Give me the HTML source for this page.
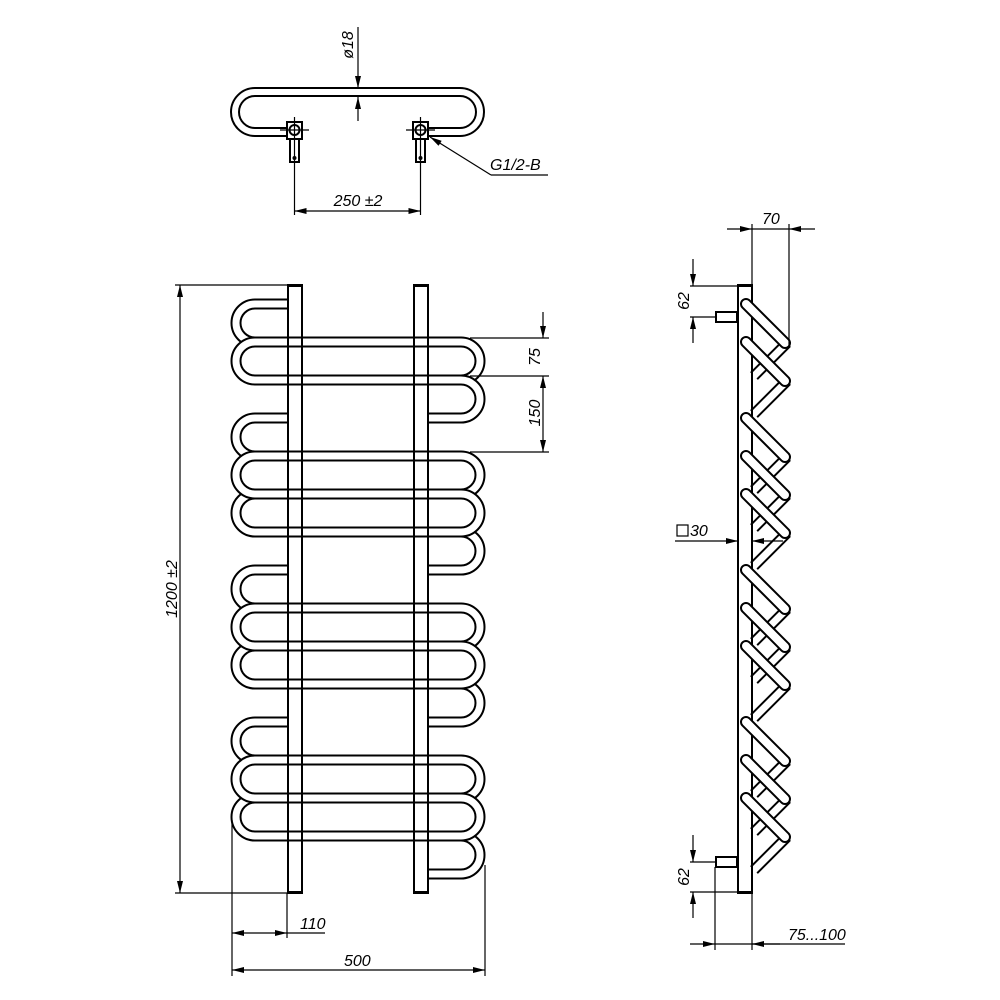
<!DOCTYPE html>
<html><head><meta charset="utf-8"><style>
html,body{margin:0;padding:0;background:#fff}
svg{display:block}
text{font-family:"Liberation Sans",sans-serif;font-style:italic;font-size:16px;fill:#000}
.k{fill:none;stroke:#000;stroke-width:11}
.w{fill:none;stroke:#fff;stroke-width:7}
.kt{fill:none;stroke:#000;stroke-width:10}
.wt{fill:none;stroke:#fff;stroke-width:6}
.l{fill:none;stroke:#000;stroke-width:1.2}
.o{fill:none;stroke:#000;stroke-width:2}
</style></head><body>
<svg width="1000" height="1000" viewBox="0 0 1000 1000" xmlns="http://www.w3.org/2000/svg">
<defs>
<marker id="a" viewBox="0 0 12 6" refX="12" refY="3" markerWidth="12" markerHeight="6" markerUnits="userSpaceOnUse" orient="auto-start-reverse"><path d="M0 0 L12 3 L0 6 Z" fill="#000"/></marker>
</defs>

<!-- TOP VIEW -->
<path class="kt" d="M287 132 H255 A20 20 0 0 1 255 92 H460 A20 20 0 0 1 460 132 H428"/>
<path class="wt" d="M287 132 H255 A20 20 0 0 1 255 92 H460 A20 20 0 0 1 460 132 H428"/>
<g>
<rect x="287" y="122" width="15" height="17" fill="#fff" class="o"/>
<circle cx="294.5" cy="130" r="5" fill="#fff" class="o"/>
<rect x="290" y="139" width="9" height="23" fill="#fff" class="o"/>
<circle cx="294.5" cy="158" r="2" fill="#000"/>
<line class="l" x1="280" y1="130" x2="309" y2="130"/><line class="l" x1="294.5" y1="117" x2="294.5" y2="215"/>
<rect x="413" y="122" width="15" height="17" fill="#fff" class="o"/>
<circle cx="420.5" cy="130" r="5" fill="#fff" class="o"/>
<rect x="416" y="139" width="9" height="23" fill="#fff" class="o"/>
<circle cx="420.5" cy="158" r="2" fill="#000"/>
<line class="l" x1="406" y1="130" x2="435" y2="130"/><line class="l" x1="420.5" y1="117" x2="420.5" y2="215"/>
</g>
<line class="l" x1="294.5" y1="211" x2="420.5" y2="211" marker-start="url(#a)" marker-end="url(#a)"/>
<text x="358" y="206" text-anchor="middle">250 ±2</text>
<line class="l" x1="358" y1="27" x2="358" y2="88" marker-end="url(#a)"/>
<line class="l" x1="358" y1="121" x2="358" y2="97" marker-end="url(#a)"/>
<text transform="translate(353,45) rotate(-90)" text-anchor="middle">ø18</text>
<line class="l" x1="491" y1="175" x2="430" y2="137" marker-end="url(#a)"/>
<line class="l" x1="491" y1="175" x2="548" y2="175"/>
<text x="490" y="170">G1/2-B</text>

<!-- FRONT VIEW tubes -->
<path class="k" d="M255 342 H461 M255 380 H461 M255 456 H461 M255 494 H461 M255 532 H461 M255 608 H461 M255 646 H461 M255 684 H461 M255 760 H461 M255 798 H461 M255 836 H461 M287 304 H255 M287 418 H255 M287 570 H255 M287 722 H255 M461 418 H428 M461 570 H428 M461 722 H428 M461 874 H428"/>
<path class="w" d="M255 342 H461 M255 380 H461 M255 456 H461 M255 494 H461 M255 532 H461 M255 608 H461 M255 646 H461 M255 684 H461 M255 760 H461 M255 798 H461 M255 836 H461 M287 304 H255 M287 418 H255 M287 570 H255 M287 722 H255 M461 418 H428 M461 570 H428 M461 722 H428 M461 874 H428"/>
<path class="k" d="M255 304 A19 19 0 0 0 255 342 M255 418 A19 19 0 0 0 255 456 M255 494 A19 19 0 0 0 255 532 M255 570 A19 19 0 0 0 255 608 M255 646 A19 19 0 0 0 255 684 M255 722 A19 19 0 0 0 255 760 M255 798 A19 19 0 0 0 255 836"/>
<path class="w" d="M255 304 A19 19 0 0 0 255 342 M255 418 A19 19 0 0 0 255 456 M255 494 A19 19 0 0 0 255 532 M255 570 A19 19 0 0 0 255 608 M255 646 A19 19 0 0 0 255 684 M255 722 A19 19 0 0 0 255 760 M255 798 A19 19 0 0 0 255 836"/>
<path class="k" d="M461 342 A19 19 0 0 1 461 380 M461 456 A19 19 0 0 1 461 494 M461 532 A19 19 0 0 1 461 570 M461 608 A19 19 0 0 1 461 646 M461 684 A19 19 0 0 1 461 722 M461 760 A19 19 0 0 1 461 798 M461 836 A19 19 0 0 1 461 874"/>
<path class="w" d="M461 342 A19 19 0 0 1 461 380 M461 456 A19 19 0 0 1 461 494 M461 532 A19 19 0 0 1 461 570 M461 608 A19 19 0 0 1 461 646 M461 684 A19 19 0 0 1 461 722 M461 760 A19 19 0 0 1 461 798 M461 836 A19 19 0 0 1 461 874"/>
<path class="k" d="M255 342 A19 19 0 0 0 255 380 M255 456 A19 19 0 0 0 255 494 M255 608 A19 19 0 0 0 255 646 M255 760 A19 19 0 0 0 255 798"/>
<path class="w" d="M255 342 A19 19 0 0 0 255 380 M255 456 A19 19 0 0 0 255 494 M255 608 A19 19 0 0 0 255 646 M255 760 A19 19 0 0 0 255 798"/>
<path class="k" d="M461 380 A19 19 0 0 1 461 418 M461 494 A19 19 0 0 1 461 532 M461 646 A19 19 0 0 1 461 684 M461 798 A19 19 0 0 1 461 836"/>
<path class="w" d="M461 380 A19 19 0 0 1 461 418 M461 494 A19 19 0 0 1 461 532 M461 646 A19 19 0 0 1 461 684 M461 798 A19 19 0 0 1 461 836"/>
<rect class="o" x="288" y="286" width="14" height="606"/>
<rect class="o" x="414" y="286" width="14" height="606"/>
<rect x="287" y="284" width="16" height="3" fill="#000"/>
<rect x="413" y="284" width="16" height="3" fill="#000"/>
<rect x="287" y="891" width="16" height="3" fill="#000"/>
<rect x="413" y="891" width="16" height="3" fill="#000"/>

<!-- front dims -->
<line class="l" x1="175" y1="285" x2="287" y2="285"/>
<line class="l" x1="175" y1="893" x2="287" y2="893"/>
<line class="l" x1="180" y1="285" x2="180" y2="893" marker-start="url(#a)" marker-end="url(#a)"/>
<text transform="translate(177,589) rotate(-90)" text-anchor="middle">1200 ±2</text>
<line class="l" x1="470" y1="338" x2="549" y2="338"/>
<line class="l" x1="470" y1="376" x2="549" y2="376"/>
<line class="l" x1="470" y1="452" x2="549" y2="452"/>
<line class="l" x1="543" y1="312" x2="543" y2="338" marker-end="url(#a)"/>
<line class="l" x1="543" y1="376" x2="543" y2="452" marker-start="url(#a)" marker-end="url(#a)"/>
<text transform="translate(540,357) rotate(-90)" text-anchor="middle">75</text>
<text transform="translate(540,413) rotate(-90)" text-anchor="middle">150</text>
<line class="l" x1="232" y1="820" x2="232" y2="976"/>
<line class="l" x1="287" y1="893" x2="287" y2="938"/>
<line class="l" x1="485" y1="865" x2="485" y2="976"/>
<line class="l" x1="232" y1="933" x2="287" y2="933" marker-start="url(#a)" marker-end="url(#a)"/>
<line class="l" x1="287" y1="933" x2="325" y2="933"/>
<text x="300" y="929">110</text>
<line class="l" x1="232" y1="970" x2="485" y2="970" marker-start="url(#a)" marker-end="url(#a)"/>
<text x="344" y="966">500</text>

<!-- SIDE VIEW -->
<rect x="738" y="286" width="14" height="606" fill="#fff" class="o"/>
<rect x="737" y="284" width="16" height="3" fill="#000"/>
<rect x="737" y="891" width="16" height="3" fill="#000"/>
<rect x="716" y="312" width="21" height="10" fill="#fff" class="o"/>
<rect x="716" y="857" width="21" height="10" fill="#fff" class="o"/>
<path class="k" d="M787 343 L754 376 M787 381 L754 414 M787 457 L754 490 M787 495 L754 528 M787 533 L754 566 M787 609 L754 642 M787 647 L754 680 M787 685 L754 718 M787 761 L754 794 M787 799 L754 832 M787 837 L754 870"/>
<path class="w" d="M787 343 L753 377 M787 381 L753 415 M787 457 L753 491 M787 495 L753 529 M787 533 L753 567 M787 609 L753 643 M787 647 L753 681 M787 685 L753 719 M787 761 L753 795 M787 799 L753 833 M787 837 L753 871"/>
<line x1="752" y1="286" x2="752" y2="892" stroke="#000" stroke-width="2"/>
<g stroke-linecap="round">
<path d="M746 304 L785 343 M746 418 L785 457 M746 494 L785 533 M746 570 L785 609 M746 646 L785 685 M746 722 L785 761 M746 798 L785 837" fill="none" stroke="#000" stroke-width="12"/>
<path d="M746 304 L785 343 M746 418 L785 457 M746 494 L785 533 M746 570 L785 609 M746 646 L785 685 M746 722 L785 761 M746 798 L785 837" fill="none" stroke="#fff" stroke-width="8"/>
<path d="M746 342 L785 381 M746 456 L785 495 M746 608 L785 647 M746 760 L785 799" fill="none" stroke="#000" stroke-width="12"/>
<path d="M746 342 L785 381 M746 456 L785 495 M746 608 L785 647 M746 760 L785 799" fill="none" stroke="#fff" stroke-width="8"/>
</g>
<line class="l" x1="752" y1="224" x2="752" y2="286"/>
<line class="l" x1="789" y1="224" x2="789" y2="345"/>
<line class="l" x1="727" y1="229" x2="752" y2="229" marker-end="url(#a)"/>
<line class="l" x1="815" y1="229" x2="789" y2="229" marker-end="url(#a)"/>
<line class="l" x1="752" y1="229" x2="789" y2="229"/>
<text x="762" y="224">70</text>
<line class="l" x1="690" y1="286" x2="738" y2="286"/>
<line class="l" x1="690" y1="317" x2="716" y2="317"/>
<line class="l" x1="693" y1="259" x2="693" y2="286" marker-end="url(#a)"/>
<line class="l" x1="693" y1="343" x2="693" y2="317" marker-end="url(#a)"/>
<text transform="translate(689,301) rotate(-90)" text-anchor="middle">62</text>
<line class="l" x1="690" y1="862" x2="716" y2="862"/>
<line class="l" x1="690" y1="892" x2="738" y2="892"/>
<line class="l" x1="693" y1="835" x2="693" y2="862" marker-end="url(#a)"/>
<line class="l" x1="693" y1="918" x2="693" y2="892" marker-end="url(#a)"/>
<text transform="translate(689,877) rotate(-90)" text-anchor="middle">62</text>
<line class="l" x1="675" y1="541" x2="738" y2="541" marker-end="url(#a)"/>
<line class="l" x1="783" y1="541" x2="752" y2="541" marker-end="url(#a)"/>
<rect x="677" y="525" width="11" height="11" fill="none" stroke="#000" stroke-width="1.2"/>
<text x="690" y="536">30</text>
<line class="l" x1="715" y1="867" x2="715" y2="950"/>
<line class="l" x1="752" y1="893" x2="752" y2="950"/>
<line class="l" x1="690" y1="944" x2="715" y2="944" marker-end="url(#a)"/>
<line class="l" x1="780" y1="944" x2="752" y2="944" marker-end="url(#a)"/>
<line class="l" x1="715" y1="944" x2="845" y2="944"/>
<text x="788" y="940">75...100</text>
</svg>
</body></html>
